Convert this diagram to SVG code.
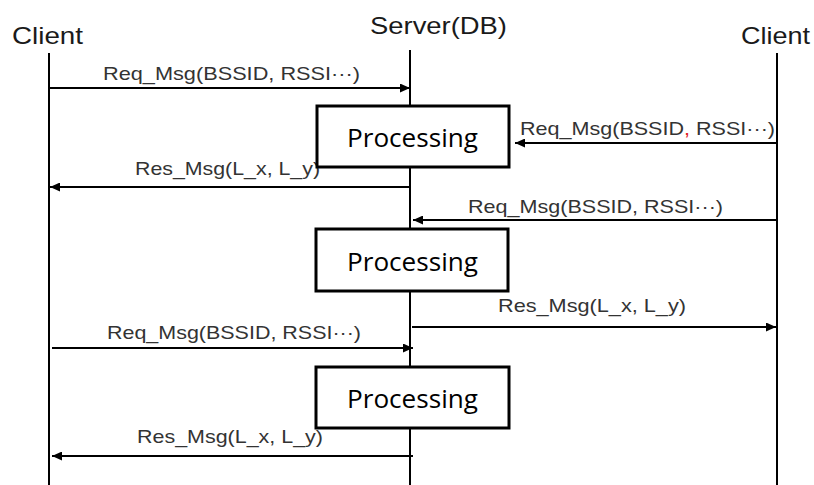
<svg xmlns="http://www.w3.org/2000/svg" width="814" height="485" viewBox="0 0 814 485">
  <style>
    .actor { font-family: "Liberation Sans", Arial, sans-serif; font-size: 24px; fill: #1a1a1a; }
    .msg { font-family: "Liberation Sans", Arial, sans-serif; font-size: 19px; fill: #333; }
    .proc { font-family: "Open Sans", "Noto Sans", sans-serif; font-size: 26px; fill: #000; }
    .life { stroke: #000; stroke-width: 2; fill: none; }
    .box { fill: #fff; stroke: #000; stroke-width: 3; }
    .arrow { stroke: #000; stroke-width: 2; fill: none; marker-end: url(#head); }
  </style>
  <defs>
    <marker id="head" markerUnits="userSpaceOnUse" markerWidth="11" markerHeight="9" refX="10" refY="4.5" orient="auto">
      <path d="M0,0 L10,4.5 L0,9 Z" fill="#000"/>
    </marker>
  </defs>
  <rect width="814" height="485" fill="#fff"/>

  <!-- actors and lifelines -->
  <g id="client-left">
    <text class="actor" x="12" y="44" textLength="71" lengthAdjust="spacingAndGlyphs">Client</text>
    <line class="life" x1="49" y1="53" x2="49" y2="485"/>
  </g>
  <g id="server">
    <text class="actor" x="370" y="34" textLength="137" lengthAdjust="spacingAndGlyphs">Server(DB)</text>
    <line class="life" x1="410" y1="50" x2="410" y2="485"/>
  </g>
  <g id="client-right">
    <text class="actor" x="741" y="44" textLength="69" lengthAdjust="spacingAndGlyphs">Client</text>
    <line class="life" x1="777" y1="53" x2="777" y2="485"/>
  </g>

  <!-- messages -->
  <g id="connectors">
    <line class="arrow" x1="49" y1="88" x2="410" y2="88"/>
    <line class="arrow" x1="777" y1="143" x2="515" y2="143"/>
    <line class="arrow" x1="410" y1="187" x2="50" y2="187"/>
    <line class="arrow" x1="777" y1="220" x2="413" y2="220"/>
    <line class="arrow" x1="412" y1="327" x2="776" y2="327"/>
    <line class="arrow" x1="52" y1="348" x2="413" y2="348"/>
    <line class="arrow" x1="413" y1="456" x2="52" y2="456"/>
  </g>

  <g id="labels">
    <text class="msg" x="103" y="80" textLength="257" lengthAdjust="spacingAndGlyphs">Req_Msg(BSSID, RSSI···)</text>
    <text class="msg" x="520" y="135" textLength="255" lengthAdjust="spacingAndGlyphs">Req_Msg(BSSID<tspan fill="#e02020">,</tspan> RSSI···)</text>
    <text class="msg" x="135" y="175" textLength="185" lengthAdjust="spacingAndGlyphs">Res_Msg(L_x, L_y)</text>
    <text class="msg" x="468" y="213" textLength="255" lengthAdjust="spacingAndGlyphs">Req_Msg(BSSID, RSSI···)</text>
    <text class="msg" x="498" y="312" textLength="188" lengthAdjust="spacingAndGlyphs">Res_Msg(L_x, L_y)</text>
    <text class="msg" x="107" y="339" textLength="254" lengthAdjust="spacingAndGlyphs">Req_Msg(BSSID, RSSI···)</text>
    <text class="msg" x="137" y="443" textLength="186" lengthAdjust="spacingAndGlyphs">Res_Msg(L_x, L_y)</text>
  </g>

  <!-- processing blocks on the server lifeline -->
  <g id="processing-1">
    <rect class="box" x="317" y="106" width="192" height="61"/>
    <text class="proc" x="347" y="147" textLength="131" lengthAdjust="spacingAndGlyphs">Processing</text>
  </g>
  <g id="processing-2">
    <rect class="box" x="316" y="229" width="192" height="62"/>
    <text class="proc" x="347" y="271" textLength="131" lengthAdjust="spacingAndGlyphs">Processing</text>
  </g>
  <g id="processing-3">
    <rect class="box" x="316" y="367" width="193" height="61"/>
    <text class="proc" x="347" y="408" textLength="131" lengthAdjust="spacingAndGlyphs">Processing</text>
  </g>
</svg>
